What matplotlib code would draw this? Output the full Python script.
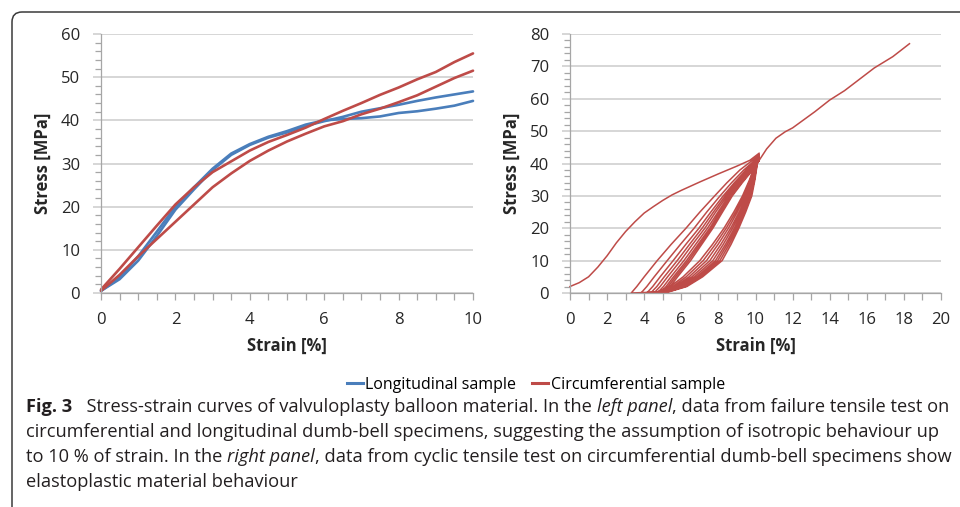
import matplotlib
matplotlib.use('Agg')
import matplotlib.pyplot as plt
from matplotlib.patches import FancyBboxPatch
from matplotlib.lines import Line2D
from matplotlib.ticker import MultipleLocator
from matplotlib.transforms import IdentityTransform

# ---- left panel: failure tensile test ----
strain_left = [0, 0.5, 1, 1.5, 2, 2.5, 3, 3.5, 4, 4.5, 5, 5.5, 6, 6.5, 7, 7.5, 8, 8.5, 9, 9.5, 10]
long_1 = [0.5, 3.2, 7.5, 13.2, 19.3, 24, 28.5, 32, 34.3, 36, 37.2, 38.7, 39.8, 40.8, 42, 42.8, 43.6, 44.5, 45.3, 46, 46.7]
long_2 = [0.5, 3.6, 8.5, 14.2, 20, 24.5, 28.8, 32.3, 34.5, 36.2, 37.5, 39, 40, 40.3, 40.5, 40.9, 41.7, 42.1, 42.7, 43.4, 44.5]
circ_1 = [0.8, 5.6, 10.6, 15.6, 20.5, 24.5, 28, 30.5, 33, 35, 36.6, 38.3, 40.3, 42.2, 44, 45.9, 47.6, 49.5, 51.2, 53.5, 55.5]
circ_2 = [0.5, 4.2, 8.5, 12.5, 16.5, 20.5, 24.5, 27.7, 30.6, 33, 35.1, 36.9, 38.6, 39.8, 41.4, 42.7, 44.2, 45.8, 47.8, 49.8, 51.5]

# ---- right panel: cyclic tensile test ----
first_strain = [0, 0.5, 1, 1.5, 2, 2.5, 3, 3.5, 4, 4.5, 5, 5.5, 6, 7, 8, 9, 9.7, 10.2]
first_stress = [2, 3.2, 5, 8, 11.5, 15.5, 19, 22, 24.7, 26.7, 28.6, 30.3, 31.7, 34.3, 36.8, 39.2, 41, 43.2]

# unloading branches, strain read at stress levels 40 ... 0.3 MPa (one value per cycle)
unload_levels = [40, 35, 30, 25, 20, 15, 10, 5, 2, 0.3]
unload_s40 = [10.0, 10.02, 10.03, 10.05, 10.06, 10.07, 10.08, 10.09, 10.1]
unload_s35 = [9.68, 9.72, 9.77, 9.81, 9.85, 9.88, 9.91, 9.94, 9.97]
unload_s30 = [9.3, 9.38, 9.45, 9.53, 9.59, 9.65, 9.7, 9.75, 9.8]
unload_s25 = [8.83, 8.93, 9.02, 9.12, 9.2, 9.28, 9.34, 9.41, 9.47]
unload_s20 = [8.3, 8.42, 8.54, 8.66, 8.76, 8.86, 8.94, 9.02, 9.1]
unload_s15 = [7.68, 7.83, 7.98, 8.13, 8.26, 8.38, 8.48, 8.58, 8.68]
unload_s10 = [7.0, 7.18, 7.36, 7.54, 7.7, 7.84, 7.96, 8.08, 8.2]
unload_s5 = [6.1, 6.26, 6.42, 6.57, 6.71, 6.84, 6.94, 7.05, 7.15]
unload_s2 = [5.4, 5.54, 5.67, 5.8, 5.92, 6.03, 6.12, 6.21, 6.3]
unload_s0 = [4.7, 4.79, 4.88, 4.97, 5.05, 5.12, 5.18, 5.24, 5.3]

# reloading branches, strain read at stress levels 0 ... 38 MPa (one value per cycle)
reload_levels = [0, 2, 5, 10, 15, 20, 25, 30, 34, 38]
reload_s0 = [3.3, 3.83, 4.14, 4.35, 4.53, 4.7, 4.84, 4.95, 5.05]
reload_s2 = [3.6, 4.14, 4.46, 4.68, 4.86, 5.04, 5.18, 5.29, 5.4]
reload_s5 = [4.0, 4.54, 4.86, 5.08, 5.26, 5.44, 5.58, 5.69, 5.8]
reload_s10 = [4.7, 5.24, 5.56, 5.78, 5.96, 6.14, 6.28, 6.39, 6.5]
reload_s15 = [5.45, 5.95, 6.24, 6.44, 6.6, 6.77, 6.9, 7.0, 7.1]
reload_s20 = [6.25, 6.69, 6.95, 7.12, 7.27, 7.41, 7.53, 7.61, 7.7]
reload_s25 = [7.0, 7.37, 7.59, 7.73, 7.85, 7.98, 8.07, 8.15, 8.22]
reload_s30 = [7.8, 8.09, 8.26, 8.37, 8.47, 8.56, 8.64, 8.69, 8.75]
reload_s34 = [8.45, 8.7, 8.85, 8.95, 9.03, 9.11, 9.18, 9.23, 9.28]
reload_s38 = [9.16, 9.37, 9.49, 9.57, 9.64, 9.71, 9.77, 9.81, 9.85]
peak_strain = 10.2
peak_stress = [42.6, 42.2, 41.9, 41.6, 41.4, 41.2, 41.1, 41.0, 41.0]

final_strain = [10.6, 11.1, 11.6, 12.0, 12.6, 13.2, 14.0, 14.8, 15.6, 16.4, 17.4, 18.3]
final_stress = [44.5, 47.8, 49.8, 51, 53.5, 56, 59.6, 62.5, 66, 69.5, 73, 77]

BLUE = '#4A7EBB'
RED = '#BE4B48'
AXC = '#A6A6A6'
GRIDC = '#D0D0D0'
TXT = '#262626'

W, H = 960, 507
fig = plt.figure(figsize=(W / 100, H / 100), dpi=100)
plt.rcParams['font.family'] = ['Open Sans', 'DejaVu Sans']


def px_axes(x0, x1, ytop, ybot):
    return fig.add_axes([x0 / W, 1 - ybot / H, (x1 - x0) / W, (ybot - ytop) / H])


def style(ax, xmax, ymax, xminor, ylab_x):
    ax.set_xlim(0, xmax)
    ax.set_ylim(0, ymax)
    ax.xaxis.set_major_locator(MultipleLocator(2))
    ax.xaxis.set_minor_locator(MultipleLocator(xminor))
    ax.yaxis.set_major_locator(MultipleLocator(10))
    ax.yaxis.set_minor_locator(MultipleLocator(2))
    for s in ['top', 'right']:
        ax.spines[s].set_visible(False)
    for s in ['left', 'bottom']:
        ax.spines[s].set_color(AXC)
        ax.spines[s].set_linewidth(0.9)
    ax.grid(axis='y', which='major', color=GRIDC, lw=1.2)
    ax.set_axisbelow(True)
    ax.tick_params(axis='x', which='both', direction='out', length=5, color=AXC, width=0.9)
    ax.tick_params(axis='x', which='major', labelsize=12, labelcolor=TXT, pad=9)
    ax.tick_params(axis='y', which='major', direction='out', length=6, color=GRIDC, width=1.2,
                   labelsize=12, labelcolor=TXT, pad=9)
    ax.tick_params(axis='y', which='minor', direction='out', length=4, color=AXC, width=0.9)
    ax.set_xlabel('Strain [%]', fontsize=12, fontweight='bold', color=TXT)
    ax.set_ylabel('Stress [MPa]', fontsize=12, fontweight='bold', color=TXT)
    ax.xaxis.label.set_va('center')
    ax.yaxis.label.set_va('center')
    ax.yaxis.label.set_ha('center')
    ax.xaxis.set_label_coords(0.5, -0.205)
    ax.yaxis.set_label_coords(ylab_x, 0.5)


# left panel
ax1 = px_axes(101, 473, 34, 293)
style(ax1, 10, 60, 0.5, -0.155)
ax1.plot(strain_left, long_1, color=BLUE, lw=1.9, solid_capstyle='round', clip_on=False)
ax1.plot(strain_left, long_2, color=BLUE, lw=1.9, solid_capstyle='round', clip_on=False)
ax1.plot(strain_left, circ_1, color=RED, lw=1.9, solid_capstyle='round', clip_on=False)
ax1.plot(strain_left, circ_2, color=RED, lw=1.9, solid_capstyle='round', clip_on=False)

# right panel: build the single cyclic path from the readings
ax2 = px_axes(570, 941, 34, 293)
style(ax2, 20, 80, 1, -0.158)
xs = list(first_strain)
ys = list(first_stress)
unload_cols = [unload_s40, unload_s35, unload_s30, unload_s25, unload_s20, unload_s15,
               unload_s10, unload_s5, unload_s2, unload_s0]
reload_cols = [reload_s0, reload_s2, reload_s5, reload_s10, reload_s15, reload_s20,
               reload_s25, reload_s30, reload_s34, reload_s38]
for i in range(len(peak_stress)):
    xs += [c[i] for c in unload_cols]
    ys += unload_levels
    xs += [c[i] for c in reload_cols] + [peak_strain]
    ys += reload_levels + [peak_stress[i]]
xs += final_strain
ys += final_stress
ax2.plot(xs, ys, color=RED, lw=1.1, clip_on=False)

# legend
handles = [Line2D([], [], color=BLUE, lw=2.2), Line2D([], [], color=RED, lw=2.2)]
fig.legend(handles, ['Longitudinal sample', 'Circumferential sample'], loc='center',
           bbox_to_anchor=(536 / W, 1 - 385 / H), ncol=2, frameon=False,
           handlelength=1.0, handletextpad=0.15, columnspacing=1.0,
           prop={'family': ['Open Sans', 'DejaVu Sans'], 'size': 11.5})

# caption, drawn run by run so italic/bold words can sit inline
cap_family = ['Open Sans', 'DejaVu Sans']
caption = [
    [('Fig. 3', 'bold', 'normal'), ('  Stress-strain curves of valvuloplasty balloon material. In the', 'normal', 'normal'),
     ('left panel', 'normal', 'italic'), (', data from failure tensile test on', 'normal', 'normal')],
    [('circumferential and longitudinal dumb-bell specimens, suggesting the assumption of isotropic behaviour up',
      'normal', 'normal')],
    [('to 10 % of strain. In the', 'normal', 'normal'), ('right panel', 'normal', 'italic'),
     (', data from cyclic tensile test on circumferential dumb-bell specimens show', 'normal', 'normal')],
    [('elastoplastic material behaviour', 'normal', 'normal')],
]
baselines = [412, 437, 462, 487]
renderer = fig.canvas.get_renderer()

# fit the font size to the width of the second line
probe = fig.text(0, 0, caption[1][0][0], fontsize=10, family=cap_family)
w10 = probe.get_window_extent(renderer).width
probe.remove()
cap_size = 10 * (944 - 26) / w10
p1 = fig.text(0, 0, 'aa', fontsize=cap_size, family=cap_family)
p2 = fig.text(0, 0, 'a a', fontsize=cap_size, family=cap_family)
space_w = p2.get_window_extent(renderer).width - p1.get_window_extent(renderer).width
p1.remove()
p2.remove()

for line, yb in zip(caption, baselines):
    x = 26
    for k, (txt, wt, st) in enumerate(line):
        t = fig.text(x / W, 1 - yb / H, txt, fontsize=cap_size, family=cap_family, weight=wt,
                     style=st, va='baseline', ha='left', color='#231f20')
        x += t.get_window_extent(renderer).width
        if k < len(line) - 1 and not line[k + 1][0].startswith(','):
            x += space_w

# frame around the figure (only the top-left corner is visible)
frame = FancyBboxPatch((12, -60), 1200, H - 12 + 60, boxstyle='round,pad=0,rounding_size=10',
                       transform=IdentityTransform(), fill=False, ec='#3a3a3a', lw=1.1)
fig.add_artist(frame)

fig.savefig('out.png', dpi=100)
